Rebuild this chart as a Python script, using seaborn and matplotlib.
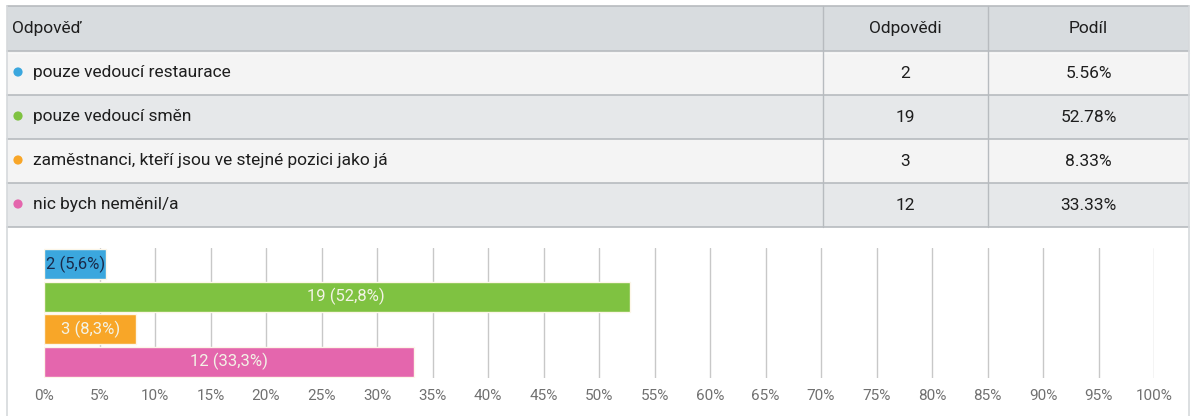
import matplotlib
matplotlib.use("Agg")
import matplotlib.pyplot as plt
import seaborn as sns
import pandas as pd
from matplotlib.patches import Rectangle, Circle

categories = ["pouze vedoucí restaurace", "pouze vedoucí směn",
              "zaměstnanci, kteří jsou ve stejné pozici jako já", "nic bych neměnil/a"]
counts = [2, 19, 3, 12]
shares = [5.56, 52.78, 8.33, 33.33]
colors = ["#3ba7de", "#7fc241", "#f8a628", "#e466ad"]
header = ["Odpověď", "Odpovědi", "Podíl"]
tick_values = list(range(0, 101, 5))
tick_labels = [f"{v}%" for v in tick_values]

sns.set_theme(style="white")
FONT = ["Roboto", "DejaVu Sans"]
plt.rcParams["font.family"] = FONT

W, H = 1192, 416
fig = plt.figure(figsize=(W / 100, H / 100), dpi=100)
fig.patch.set_facecolor("white")

# background axes in pixel coordinates for the table and frame
bg = fig.add_axes([0, 0, 1, 1])
bg.set_xlim(0, W)
bg.set_ylim(H, 0)
bg.axis("off")

left, right = 7, 1189
col1, col2 = 823, 988
row_edges = [6, 51, 95, 139, 183, 227]
row_fill = ["#d8dcdf", "#f4f4f4", "#e6e8ea", "#f4f4f4", "#e6e8ea"]
line_c = "#b7bbbf"

for i in range(5):
    y0, y1 = row_edges[i], row_edges[i + 1]
    bg.add_patch(Rectangle((left, y0), right - left, y1 - y0, facecolor=row_fill[i],
                           edgecolor="none", zorder=1))
for y in row_edges:
    bg.plot([left, right], [y, y], color=line_c, lw=1.2, zorder=2)
bg.plot([left, right], [row_edges[1] + 2, row_edges[1] + 2], color="#f8f8f8", lw=1, zorder=2)
for x in (col1, col2):
    bg.plot([x, x], [row_edges[0], row_edges[-1]], color=line_c, lw=1, zorder=2)
# outer frame
bg.plot([left, left], [row_edges[0], H], color="#d6d9dc", lw=1.2, zorder=2)
bg.plot([right, right], [row_edges[0], H], color="#d6d9dc", lw=1.2, zorder=2)

txt_c = "#1e1e1e"
fs = 12.5
yc = (row_edges[0] + row_edges[1]) / 2
bg.text(12, yc, header[0], fontsize=fs, color=txt_c, va="center", ha="left", zorder=3)
bg.text((col1 + col2) / 2, yc, header[1], fontsize=fs, color=txt_c, va="center", ha="center", zorder=3)
bg.text((col2 + right) / 2, yc, header[2], fontsize=fs, color=txt_c, va="center", ha="center", zorder=3)
for i, (cat, n, s, c) in enumerate(zip(categories, counts, shares, colors)):
    yc = (row_edges[i + 1] + row_edges[i + 2]) / 2
    bg.add_patch(Circle((18, yc - 1), 4.6, facecolor=c, edgecolor="none", zorder=3))
    bg.text(33, yc, cat, fontsize=fs, color=txt_c, va="center", ha="left", zorder=3)
    bg.text((col1 + col2) / 2, yc, f"{n}", fontsize=fs, color=txt_c, va="center", ha="center", zorder=3)
    bg.text((col2 + right) / 2, yc, f"{s:.2f}%", fontsize=fs, color=txt_c, va="center", ha="center", zorder=3)

# bar chart
x0, x1 = 44, 1154
ytop, ybot = 248, 378
ax = fig.add_axes([x0 / W, 1 - ybot / H, (x1 - x0) / W, (ybot - ytop) / H])
ax.set_facecolor("none")
df = pd.DataFrame({"cat": categories, "share": shares})
sns.barplot(data=df, x="share", y="cat", hue="cat", palette=colors, orient="h",
            saturation=1, width=0.92, edgecolor="#fdf6e8", linewidth=1.0,
            legend=False, ax=ax, zorder=3)
ax.set_xlim(0, 100)
ax.set_xticks(tick_values)
ax.set_xticklabels(tick_labels, fontsize=11, color="#707070")
ax.tick_params(axis="x", length=0, pad=8)
ax.set_yticks([])
ax.set_xlabel("")
ax.set_ylabel("")
for sp in ax.spines.values():
    sp.set_visible(False)
for v in tick_values[1:]:
    ax.axvline(v, color="#c8c8c8", lw=1, zorder=1)

pct_labels = [f"{n} ({s:.1f}%)".replace(".", ",") for n, s in zip(counts, shares)]
for i, (lab, s) in enumerate(zip(pct_labels, shares)):
    if i == 0:
        ax.text(0.2, i, lab, fontsize=12, color="#1a2a4a", va="center", ha="left", zorder=5)
    else:
        ax.text(s / 2 + (0.8 if i == 1 else 0), i, lab, fontsize=12, color="#f3f3e6",
                va="center", ha="center", zorder=5)

fig.savefig("out.png", dpi=100, facecolor="white")
